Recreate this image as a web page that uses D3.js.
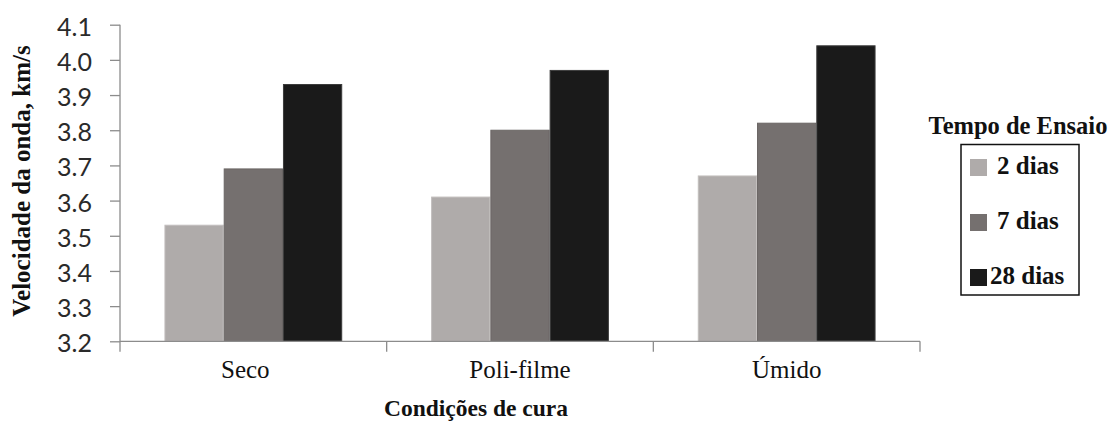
<!DOCTYPE html>
<html>
<head>
<meta charset="utf-8">
<script src="https://cdn.jsdelivr.net/npm/d3@7"></script>
<style>
  html, body { margin: 0; padding: 0; background: #fff; }
  svg { display: block; }
  .serif { font-family: "Liberation Serif", "Times New Roman", Tinos, "DejaVu Serif", serif; }
  .ticklab { font-family: Lato, "Open Sans", sans-serif; }
</style>
</head>
<body>
<svg id="chart" width="1116" height="421"></svg>
<script>
// Curing conditions and test ages
const categories = ["Seco", "Poli-filme", "Úmido"];
const seriesNames = ["2 dias", "7 dias", "28 dias"];
// Wave velocity (km/s) per curing condition, one array per test age
const vel2dias = [3.53, 3.61, 3.67];
const vel7dias = [3.69, 3.80, 3.82];
const vel28dias = [3.93, 3.97, 4.04];
const yTicks = [3.2, 3.3, 3.4, 3.5, 3.6, 3.7, 3.8, 3.9, 4.0, 4.1];

const seriesValues = [vel2dias, vel7dias, vel28dias];
const fills = ["#afabaa", "#75706f", "#1a1a1a"];
const strokes = ["#c2bebd", "#6a6564", "#3c3c3c"];

const svg = d3.select("#chart");
const plotLeft = 120, plotRight = 920, plotTop = 24.7, plotBottom = 341.3;

const y = d3.scaleLinear().domain([3.2, 4.1]).range([plotBottom, plotTop]);
const x0 = d3.scaleBand().domain(categories).range([plotLeft, plotRight]).paddingInner(0).paddingOuter(0);
const x1 = d3.scaleBand().domain(seriesNames).range([0, x0.bandwidth()]).paddingInner(0).paddingOuter(0.75);

const axisColor = "#8c8c8c";

// Bars
const groups = svg.append("g").selectAll("g")
  .data(categories)
  .join("g")
  .attr("transform", d => `translate(${x0(d)},0)`);

groups.selectAll("rect")
  .data((c, ci) => seriesNames.map((s, si) => ({ s, si, v: seriesValues[si][ci] })))
  .join("rect")
  .attr("x", d => x1(d.s) + 0.5)
  .attr("y", d => y(d.v))
  .attr("width", x1.bandwidth() - 1)
  .attr("height", d => y(3.2) - y(d.v))
  .attr("fill", d => fills[d.si])
  .attr("stroke", d => strokes[d.si])
  .attr("stroke-width", 1);

// Y axis
const yAxis = svg.append("g")
  .attr("transform", `translate(${plotLeft},0)`)
  .call(d3.axisLeft(y).tickValues(yTicks).tickFormat(d3.format(".1f")).tickSize(10).tickPadding(18));
yAxis.select(".domain").remove();
yAxis.attr("font-family", null).attr("font-size", null);
yAxis.selectAll(".tick line").attr("stroke", axisColor).attr("stroke-width", 1.3);
yAxis.selectAll(".tick text")
  .attr("class", "ticklab")
  .attr("dy", "0.42em")
  .style("font-size", "25px")
  .attr("fill", "#2a2a2a");
yAxis.append("line")
  .attr("x1", 0).attr("x2", 0)
  .attr("y1", plotTop).attr("y2", plotBottom + 10.5)
  .attr("stroke", axisColor).attr("stroke-width", 1.3);

// X axis line with boundary ticks
const xAxis = svg.append("g");
xAxis.append("line")
  .attr("x1", plotLeft).attr("x2", plotRight)
  .attr("y1", plotBottom).attr("y2", plotBottom)
  .attr("stroke", axisColor).attr("stroke-width", 1.3);
xAxis.selectAll("line.bt")
  .data(categories.slice(1).concat(["end"]))
  .join("line")
  .attr("class", "bt")
  .attr("x1", d => d === "end" ? plotRight : x0(d))
  .attr("x2", d => d === "end" ? plotRight : x0(d))
  .attr("y1", plotBottom).attr("y2", plotBottom + 10.5)
  .attr("stroke", axisColor).attr("stroke-width", 1.3);

xAxis.selectAll("text.cat")
  .data(categories)
  .join("text")
  .attr("class", "cat serif")
  .attr("x", d => x0(d) + x0.bandwidth() / 2 - (d === "Seco" ? 8 : 0))
  .attr("y", 378)
  .attr("text-anchor", "middle")
  .style("font-size", "25px")
  .attr("fill", "#111")
  .text(d => d);

// Axis titles
svg.append("text")
  .attr("class", "serif")
  .attr("x", 476)
  .attr("y", 416)
  .attr("text-anchor", "middle")
  .style("font-weight", "bold")
  .style("font-size", "23.5px")
  .attr("fill", "#111")
  .text("Condições de cura");

svg.append("text")
  .attr("class", "serif")
  .attr("transform", "translate(30,181) rotate(-90)")
  .attr("text-anchor", "middle")
  .style("font-weight", "bold")
  .style("font-size", "25px")
  .attr("fill", "#111")
  .text("Velocidade da onda, km/s");

// Legend
const legend = svg.append("g");
legend.append("text")
  .attr("class", "serif")
  .attr("x", 1018)
  .attr("y", 134)
  .attr("text-anchor", "middle")
  .style("font-weight", "bold")
  .style("font-size", "24.5px")
  .attr("fill", "#111")
  .text("Tempo de Ensaio");
legend.append("rect")
  .attr("x", 961).attr("y", 144.5)
  .attr("width", 118).attr("height", 150.5)
  .attr("fill", "none")
  .attr("stroke", "#111")
  .attr("stroke-width", 1.5);

const items = legend.selectAll("g.item")
  .data(seriesNames)
  .join("g")
  .attr("class", "item")
  .attr("transform", (d, i) => `translate(970,${159 + i * 55})`);
items.append("rect")
  .attr("width", 17).attr("height", 17)
  .attr("fill", (d, i) => fills[i]);
items.append("text")
  .attr("class", "serif")
  .attr("x", (d, i) => i === 2 ? 20 : 27)
  .attr("y", 15)
  .style("font-weight", "bold")
  .style("font-size", "25px")
  .attr("fill", "#111")
  .text(d => d);
</script>
</body>
</html>
